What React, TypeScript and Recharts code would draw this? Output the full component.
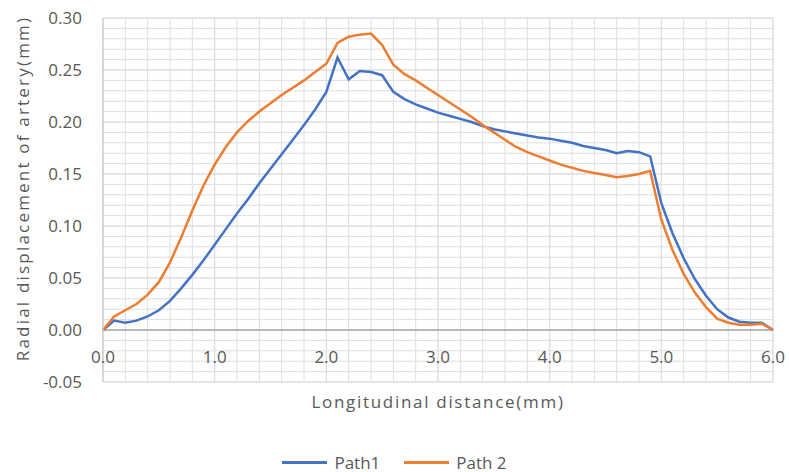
import React from 'react';
import { LineChart, Line, XAxis, YAxis, ReferenceLine, CartesianGrid } from 'recharts';

const distance = [
  0.0, 0.1, 0.2, 0.3, 0.4, 0.5, 0.6, 0.7, 0.8, 0.9,
  1.0, 1.1, 1.2, 1.3, 1.4, 1.5, 1.6, 1.7, 1.8, 1.9,
  2.0, 2.1, 2.2, 2.3, 2.4, 2.5, 2.6, 2.7, 2.8, 2.9,
  3.0, 3.1, 3.2, 3.3, 3.4, 3.5, 3.6, 3.7, 3.8, 3.9,
  4.0, 4.1, 4.2, 4.3, 4.4, 4.5, 4.6, 4.7, 4.8, 4.9,
  5.0, 5.1, 5.2, 5.3, 5.4, 5.5, 5.6, 5.7, 5.8, 5.9,
  6.0,
];

const path1 = [
  0.000, 0.009, 0.007, 0.009, 0.013, 0.019, 0.028, 0.040, 0.053, 0.067,
  0.082, 0.097, 0.112, 0.126, 0.141, 0.155, 0.169, 0.183, 0.197, 0.212,
  0.229, 0.262, 0.241, 0.249, 0.248, 0.245, 0.229, 0.222, 0.217, 0.213,
  0.209, 0.206, 0.203, 0.200, 0.196, 0.193, 0.191, 0.189, 0.187, 0.185,
  0.184, 0.182, 0.180, 0.177, 0.175, 0.173, 0.170, 0.172, 0.171, 0.167,
  0.122, 0.093, 0.069, 0.049, 0.033, 0.020, 0.012, 0.008, 0.007, 0.007,
  0.000,
];

const path2 = [
  0.000, 0.013, 0.019, 0.025, 0.034, 0.046, 0.065, 0.089, 0.115, 0.139,
  0.159, 0.176, 0.190, 0.201, 0.210, 0.218, 0.226, 0.233, 0.240, 0.248,
  0.256, 0.276, 0.282, 0.284, 0.285, 0.274, 0.255, 0.246, 0.240, 0.233,
  0.226, 0.219, 0.212, 0.205, 0.197, 0.190, 0.183, 0.176, 0.171, 0.167,
  0.163, 0.159, 0.156, 0.153, 0.151, 0.149, 0.147, 0.148, 0.150, 0.153,
  0.106, 0.077, 0.054, 0.036, 0.022, 0.011, 0.007, 0.005, 0.005, 0.006,
  0.000,
];

const xTicks = [0, 1, 2, 3, 4, 5, 6];
const yTicks = [-0.05, 0, 0.05, 0.1, 0.15, 0.2, 0.25, 0.3];
const xMinorGrid = [
  0.2, 0.4, 0.6, 0.8, 1.0, 1.2, 1.4, 1.6, 1.8, 2.0, 2.2, 2.4, 2.6, 2.8,
  3.0, 3.2, 3.4, 3.6, 3.8, 4.0, 4.2, 4.4, 4.6, 4.8, 5.0, 5.2, 5.4, 5.6, 5.8, 6.0,
];
const yMinorGrid = [
  -0.05, -0.04, -0.03, -0.02, -0.01, 0.01, 0.02, 0.03, 0.04, 0.05, 0.06,
  0.07, 0.08, 0.09, 0.1, 0.11, 0.12, 0.13, 0.14, 0.15, 0.16, 0.17, 0.18,
  0.19, 0.2, 0.21, 0.22, 0.23, 0.24, 0.25, 0.26, 0.27, 0.28, 0.29, 0.3,
];

const seriesKeys = ['path1', 'path2'];
const seriesNames = ['Path1', 'Path 2'];
const seriesColors = ['#4472C4', '#ED7D31'];

const data = distance.map((x, i) => ({ x, path1: path1[i], path2: path2[i] }));

const FONT = '"Open Sans", sans-serif';
const TEXT = '#595959';
const GRID = '#DEDEDE';

const XTick = (props: any) => {
  const { x, y, payload } = props;
  return (
    <text x={x} y={y - 19} textAnchor="middle" fill={TEXT} fontSize={17}>
      {Number(payload.value).toFixed(1)}
    </text>
  );
};

const XTitle = (props: any) => {
  const vb = props.viewBox || {};
  return (
    <text
      x={vb.x + vb.width / 2}
      y={vb.y + 26}
      textAnchor="middle"
      fill={TEXT}
      fontSize={17}
      style={{ letterSpacing: '1.7px' }}
    >
      Longitudinal distance(mm)
    </text>
  );
};

const YTitle = (props: any) => {
  const vb = props.viewBox || {};
  const cx = vb.x + 28.5;
  const cy = vb.y + vb.height / 2 - 11.5;
  return (
    <text
      x={cx}
      y={cy}
      transform={`rotate(-90, ${cx}, ${cy})`}
      textAnchor="middle"
      fill={TEXT}
      fontSize={17}
      style={{ letterSpacing: '2.2px' }}
    >
      Radial displacement of artery(mm)
    </text>
  );
};

export default function App() {
  return (
    <div
      style={{
        position: 'absolute',
        left: 0,
        top: 0,
        width: 789,
        height: 472,
        background: '#fff',
        fontFamily: FONT,
      }}
    >
      <LineChart
        width={789}
        height={472}
        data={data}
        margin={{ top: 18, right: 16, left: 0, bottom: 60 }}
      >
        <CartesianGrid stroke={GRID} />
        {yMinorGrid.map((v) => (
          <ReferenceLine key={'gy' + v} y={v} stroke={GRID} strokeWidth={1} ifOverflow="visible" />
        ))}
        {xMinorGrid.map((v) => (
          <ReferenceLine key={'gx' + v} x={v} stroke={GRID} strokeWidth={1} ifOverflow="visible" />
        ))}
        <ReferenceLine y={0} stroke="#A6A6A6" strokeWidth={1.3} ifOverflow="visible" />
        <XAxis
          dataKey="x"
          type="number"
          domain={[0, 6]}
          ticks={xTicks}
          interval={0}
          axisLine={false}
          tickLine={false}
          tickSize={0}
          tickMargin={0}
          height={30}
          tick={<XTick />}
          label={XTitle}
        />
        <YAxis
          type="number"
          domain={[-0.05, 0.3]}
          ticks={yTicks}
          interval={0}
          width={103}
          tickSize={0}
          tickMargin={21}
          tickLine={false}
          axisLine={{ stroke: '#BFBFBF', strokeWidth: 1 }}
          tick={{ fill: TEXT, fontSize: 17 }}
          tickFormatter={(v: number) => v.toFixed(2)}
          label={YTitle}
        />
        {seriesKeys.map((k, i) => (
          <Line
            key={k}
            type="linear"
            dataKey={k}
            name={seriesNames[i]}
            stroke={seriesColors[i]}
            strokeWidth={2.5}
            dot={false}
            isAnimationActive={false}
          />
        ))}
      </LineChart>
      <div
        style={{
          position: 'absolute',
          left: 0,
          top: 450,
          width: 789,
          display: 'flex',
          justifyContent: 'center',
          alignItems: 'center',
          gap: 24,
          fontSize: 17,
          color: TEXT,
          height: 24,
        }}
      >
        {seriesNames.map((name, i) => (
          <div key={name} style={{ display: 'flex', alignItems: 'center', gap: 7 }}>
            <div style={{ width: 45, height: 3, background: seriesColors[i] }} />
            <span>{name}</span>
          </div>
        ))}
      </div>
    </div>
  );
}
